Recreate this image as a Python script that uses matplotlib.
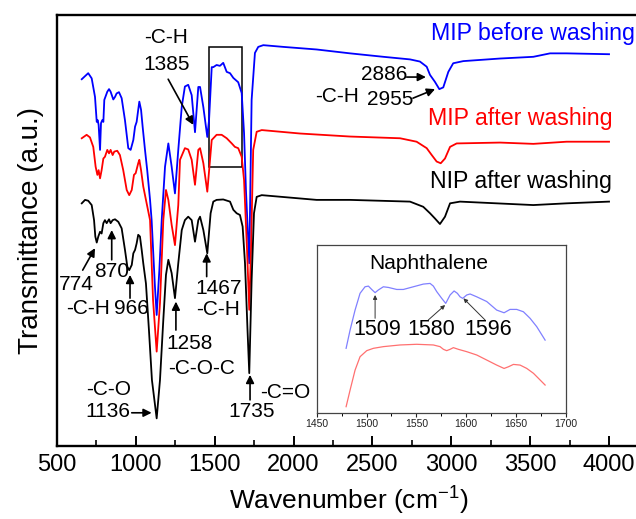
import matplotlib
matplotlib.use('Agg')
import matplotlib.pyplot as plt
from matplotlib.ticker import MultipleLocator

plt.rcParams.update({
    'font.family': 'Liberation Sans',
    'mathtext.fontset': 'custom',
    'mathtext.rm': 'Liberation Sans',
    'font.size': 14,
    'axes.linewidth': 1.7,
})

# --- espectros FTIR ---
wn_blue = [657, 698, 720, 741, 752, 758, 764, 773, 779, 787, 794, 800, 811, 819, 830, 840,
           857, 868, 878, 893, 910, 931, 952, 967, 984, 995, 1005, 1015, 1022, 1033, 1043,
           1058, 1072, 1090, 1100, 1121, 1132, 1149, 1164, 1185, 1206, 1227, 1248, 1269,
           1291, 1311, 1332, 1354, 1375, 1396, 1407, 1428, 1453, 1464, 1481, 1491, 1512,
           1533, 1554, 1576, 1597, 1618, 1649, 1671, 1686, 1698, 1719, 1734, 1755, 1776,
           1808, 1935, 2146, 2358, 2569, 2738, 2801, 2844, 2865, 2896, 2924, 2949, 2981,
           3012, 3076, 3309, 3520, 3626, 3731, 4000]
t_blue = [85.1, 86.5, 85.3, 81.0, 75.2, 75.6, 74.5, 68.7, 74.9, 75.6, 75.2, 80.3, 81.4, 82.2,
          82.8, 82.2, 80.4, 81.0, 81.8, 82.1, 80.7, 75.6, 69.1, 68.7, 71.0, 74.1, 75.2, 78.0,
          79.9, 78.0, 74.1, 68.7, 64.0, 57.1, 52.4, 37.0, 30.4, 40.8, 52.4, 64.8, 70.2, 64.8,
          58.6, 68.7, 78.7, 83.4, 83.8, 81.4, 72.8, 83.3, 83.3, 78.6, 71.7, 75.6, 87.9, 87.9,
          88.4, 88.2, 88.9, 86.8, 86.5, 85.4, 84.4, 81.9, 72.6, 59.4, 42.4, 80.3, 91.2, 92.6,
          93.0, 92.6, 92.0, 91.1, 90.3, 89.7, 89.2, 88.0, 86.1, 84.5, 82.8, 83.2, 86.8, 88.8,
          89.3, 89.9, 90.3, 91.1, 91.1, 90.9]

wn_red = [657, 688, 709, 730, 745, 756, 764, 773, 783, 794, 804, 819, 830, 840, 853, 863,
          882, 899, 920, 942, 958, 974, 988, 999, 1015, 1022, 1033, 1047, 1064, 1090, 1109,
          1132, 1153, 1174, 1191, 1206, 1227, 1248, 1269, 1280, 1311, 1332, 1354, 1375,
          1396, 1407, 1428, 1453, 1481, 1512, 1544, 1576, 1608, 1628, 1649, 1671, 1686,
          1705, 1719, 1730, 1744, 1766, 1798, 2041, 2358, 2675, 2780, 2844, 2876, 2907,
          2933, 2960, 2992, 3034, 3309, 3520, 3731, 4000]
t_red = [71.4, 72.2, 71.6, 69.4, 64.8, 62.9, 64.0, 62.1, 64.0, 66.7, 67.1, 68.7, 67.9, 68.7,
         67.5, 68.3, 68.5, 67.5, 64.0, 59.4, 58.2, 59.4, 62.9, 63.3, 65.6, 66.4, 64.0, 60.2,
         57.1, 52.4, 33.9, 21.9, 33.2, 52.4, 59.4, 57.1, 51.3, 46.6, 55.9, 66.4, 69.1, 68.8,
         66.4, 60.6, 68.7, 69.1, 65.6, 59.0, 71.0, 72.2, 72.2, 71.4, 70.2, 69.4, 69.1, 67.1,
         61.7, 45.5, 31.6, 45.5, 68.7, 72.9, 73.3, 72.5, 71.8, 71.4, 70.6, 69.1, 67.5, 66.0,
         65.6, 66.7, 69.4, 70.2, 70.4, 70.1, 70.6, 70.6]

wn_black = [657, 678, 698, 720, 735, 743, 752, 762, 773, 783, 794, 804, 815, 830, 840, 853,
            868, 889, 910, 931, 946, 958, 974, 984, 995, 1005, 1015, 1026, 1037, 1047, 1064,
            1083, 1102, 1132, 1153, 1174, 1191, 1206, 1227, 1248, 1269, 1291, 1311, 1332,
            1354, 1375, 1396, 1407, 1428, 1453, 1474, 1491, 1512, 1554, 1597, 1618, 1639,
            1660, 1677, 1692, 1708, 1719, 1734, 1749, 1766, 1798, 2146, 2358, 2738, 2822,
            2865, 2896, 2928, 2960, 2992, 3055, 3520, 3731, 4000]
t_black = [56.3, 57.1, 56.9, 55.9, 52.4, 48.6, 47.2, 48.6, 49.7, 49.3, 51.7, 52.4, 51.7, 52.6,
           51.7, 52.4, 52.6, 52.0, 50.5, 45.5, 41.6, 40.8, 42.0, 44.7, 45.5, 47.0, 49.0, 48.6,
           45.5, 42.4, 37.7, 26.9, 15.3, 6.4, 15.3, 29.2, 39.7, 43.2, 40.1, 34.3, 42.4, 50.1,
           52.4, 53.2, 52.4, 47.4, 52.4, 53.2, 50.1, 44.7, 54.0, 56.7, 57.1, 57.2, 56.7, 54.8,
           54.0, 53.6, 50.9, 42.4, 26.9, 16.9, 38.5, 54.0, 57.8, 58.2, 57.1, 57.1, 56.7, 55.5,
           54.0, 52.8, 51.5, 53.2, 56.3, 56.7, 55.9, 56.3, 56.7]

# --- ampliación 1450-1700 (Naphthalene) ---
wn_in_blue = [1479.5, 1483.5, 1488.5, 1493.5, 1498.5, 1501.9, 1505.2, 1508.6, 1511.9, 1516.9,
              1522.0, 1530.3, 1537.0, 1547.0, 1557.0, 1563.8, 1567.1, 1570.5, 1575.5, 1579.5,
              1583.9, 1587.9, 1591.2, 1593.9, 1596.6, 1600.6, 1604.0, 1610.7, 1620.7, 1630.7,
              1638.1, 1644.1, 1650.8, 1657.5, 1664.2, 1670.9, 1679.3]
t_in_blue = [38.4, 49.3, 61.2, 71.2, 75.1, 75.5, 73.5, 71.6, 73.2, 75.1, 74.7, 73.5, 73.5, 75.1,
             76.7, 77.1, 75.5, 72.2, 68.2, 65.2, 70.2, 72.6, 71.2, 69.1, 68.2, 70.2, 70.8, 69.1,
             66.3, 61.2, 59.6, 61.6, 61.6, 60.2, 56.3, 51.3, 43.3]
wn_in_red = [1479.5, 1483.5, 1488.5, 1493.5, 1500.2, 1506.9, 1516.9, 1533.7, 1550.4, 1567.1,
             1573.8, 1577.2, 1580.5, 1583.9, 1587.2, 1592.2, 1600.6, 1610.7, 1620.7, 1630.7,
             1638.1, 1642.5, 1647.5, 1654.2, 1660.9, 1667.6, 1674.3, 1679.3]
t_in_red = [3.6, 13.5, 25.4, 33.4, 37.0, 38.4, 39.4, 40.4, 40.8, 40.4, 39.4, 37.8, 37.0, 37.8,
            38.8, 37.8, 36.4, 34.4, 31.4, 28.4, 26.4, 27.4, 28.8, 28.4, 26.4, 23.5, 19.5, 16.5]

fig = plt.figure(figsize=(6.36, 5.19), dpi=100)
ax = fig.add_axes([0.0896, 0.1407, 0.9176, 0.8304])

ax.plot(wn_blue, t_blue, color='#0000ff', lw=1.3)
ax.plot(wn_red, t_red, color='#ff0000', lw=1.3)
ax.plot(wn_black, t_black, color='black', lw=1.3)

ax.set_xlim(500, 4200)
ax.set_ylim(0, 100)
ax.set_yticks([])
ax.xaxis.set_major_locator(MultipleLocator(500))
ax.xaxis.set_minor_locator(MultipleLocator(250))
ax.tick_params(axis='x', which='major', direction='in', length=7, width=1.4,
               labelsize=17, pad=6)
ax.tick_params(axis='x', which='minor', direction='in', length=4, width=1.2)
ax.set_xlabel('Wavenumber (cm$^{\\mathregular{-1}}$)', fontsize=19, labelpad=5)
ax.set_ylabel('Transmittance (a.u.)', fontsize=20, labelpad=9)

# recuadro de la zona ampliada
ax.add_patch(plt.Rectangle((1466, 64.7), 205, 27.8, fill=False, ec='black', lw=1.1))

# etiquetas de las curvas
ax.text(3515, 95.7, 'MIP before washing', color='#0000ff', fontsize=16.7, ha='center', va='center')
ax.text(3440, 76.0, 'MIP after washing', color='#ff0000', fontsize=16.7, ha='center', va='center')
ax.text(3440, 61.3, 'NIP after washing', color='black', fontsize=16.7, ha='center', va='center')

# bandas asignadas: (texto, x, y)
etiquetas = [
    ('2886', 2573, 86.1), ('-C-H', 2278, 81.0), ('2955', 2611, 80.3),
    ('-C-H', 1191, 94.8), ('1385', 1195, 88.4),
    ('774', 625, 37.4), ('870', 847, 40.4), ('-C-H', 699, 31.9), ('966', 974, 31.9),
    ('1467', 1523, 36.6), ('-C-H', 1523, 31.6),
    ('1258', 1343, 23.8), ('-C-O-C', 1417, 18.0),
    ('-C-O', 825, 13.0), ('1136', 825, 8.0),
    ('1735', 1734, 8.0), ('-C=O', 1946, 12.4),
]
for txt, x, y in etiquetas:
    ax.text(x, y, txt, fontsize=15, ha='center', va='center')

# flechas: (cola, punta)
flechas = [
    ((2717, 85.6), (2839, 85.6)),
    ((2757, 80.7), (2897, 82.8)),
    ((1205, 85.1), (1364, 74.5)),
    ((663, 40.8), (741, 45.9)),
    ((847, 43.2), (847, 50.1)),
    ((963, 34.3), (963, 39.7)),
    ((1449, 39.3), (1449, 44.7)),
    ((1254, 26.9), (1254, 33.5)),
    ((974, 7.7), (1100, 7.7)),
    ((1724, 10.7), (1724, 16.5)),
]
for tail, tip in flechas:
    ax.annotate('', xy=tip, xytext=tail,
                arrowprops=dict(arrowstyle='-|>', color='black', lw=1.2,
                                mutation_scale=12, shrinkA=0, shrinkB=0))

# --- inset ---
axi = fig.add_axes([0.498, 0.2048, 0.3915, 0.3231])
axi.plot(wn_in_blue, t_in_blue, color='#8080ff', lw=0.9)
axi.plot(wn_in_red, t_in_red, color='#ff7070', lw=0.9)
axi.set_xlim(1450, 1700)
axi.set_ylim(0, 100)
axi.set_yticks([])
axi.xaxis.set_major_locator(MultipleLocator(50))
axi.xaxis.set_minor_locator(MultipleLocator(25))
axi.tick_params(axis='x', which='major', direction='out', length=3, width=0.8,
                labelsize=7.5, pad=1.5, colors='#222222')
axi.tick_params(axis='x', which='minor', direction='out', length=2, width=0.7)
for sp in axi.spines.values():
    sp.set_linewidth(0.9)
    sp.set_color('#444444')

axi.text(1562, 89, 'Naphthalene', fontsize=15, ha='center', va='center')
for txt, x, y in [('1509', 1511, 49.7), ('1580', 1564.5, 49.7), ('1596', 1622.4, 49.7)]:
    axi.text(x, y, txt, fontsize=15.5, ha='center', va='center')
for tail, tip in [((1508.6, 56.3), (1508.6, 70.2)),
                  ((1562, 55.3), (1578.9, 64.2)),
                  ((1619, 55.3), (1597.3, 68.2))]:
    axi.annotate('', xy=tip, xytext=tail,
                 arrowprops=dict(arrowstyle='-|>', color='#333333', lw=0.7,
                                 mutation_scale=6, shrinkA=0, shrinkB=0))

fig.savefig('out.png', dpi=100)
